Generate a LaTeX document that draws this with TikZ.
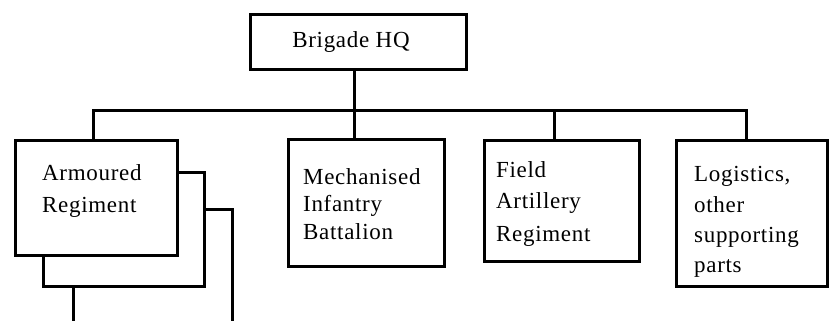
\documentclass[tikz,border=0pt]{standalone}
\usepackage{fontspec}
\setmainfont[LetterSpace=3]{Liberation Serif}
\begin{document}
\begin{tikzpicture}[x=1pt,y=-1pt,
  box/.style={draw=black,line width=3pt,fill=white,rectangle,inner sep=0pt},
  txt/.style={anchor=base west,inner sep=0pt,font=\fontsize{23}{30}\selectfont},
  conn/.style={draw=black,line width=3pt}]
\clip (0,0) rectangle (831,321);
\fill[white] (0,0) rectangle (831,321);
% Brigade HQ
\node[box,minimum width=216pt,minimum height=55pt] (hq) at (358,42.5) {};
\node[txt,anchor=base] (hqt) at (351,48) {Brigade HQ};
% Armoured regiment stack
\node[box,minimum width=159pt,minimum height=115pt] (arm3) at (152.5,266.5) {};
\node[box,minimum width=161pt,minimum height=114pt] (arm2) at (123.5,229) {};
\node[box,minimum width=162pt,minimum height=115pt] (arm) at (96,197.5) {};
\node[txt] (arm1) at (42,180) {Armoured};
\node[txt] (arm2t) at (42,212) {Regiment};
% Mechanised
\node[box,minimum width=156pt,minimum height=127pt] (mech) at (366,202.5) {};
\node[txt] (mech1) at (303,184) {Mechanised};
\node[txt] (mech2) at (303,211.5) {Infantry};
\node[txt] (mech3) at (303,239) {Battalion};
% Field artillery
\node[box,minimum width=155pt,minimum height=121pt] (fa) at (561.5,200.5) {};
\node[txt] (fa1) at (496,177) {Field};
\node[txt] (fa2) at (496,208.5) {Artillery};
\node[txt] (fa3) at (496,241) {Regiment};
% Logistics
\node[box,minimum width=151pt,minimum height=146pt] (log) at (751.5,213) {};
\node[txt] (log1) at (694,182) {Logistics,};
\node[txt] (log2) at (694,212.5) {other};
\node[txt] (log3) at (694,242.5) {supporting};
\node[txt] (log4) at (694,272) {parts};
% bus
\coordinate (b1) at (93,111);
\coordinate (b2) at (354,111);
\coordinate (b3) at (554,111);
\coordinate (b4) at (746,111);
\draw[conn] (b1 |- arm.north) -- (b1) -- (b4) -- (b4 |- log.north);
\draw[conn] (hq.south -| b2) -- (b2 |- mech.north);
\draw[conn] (b3) -- (b3 |- fa.north);
\end{tikzpicture}
\end{document}
